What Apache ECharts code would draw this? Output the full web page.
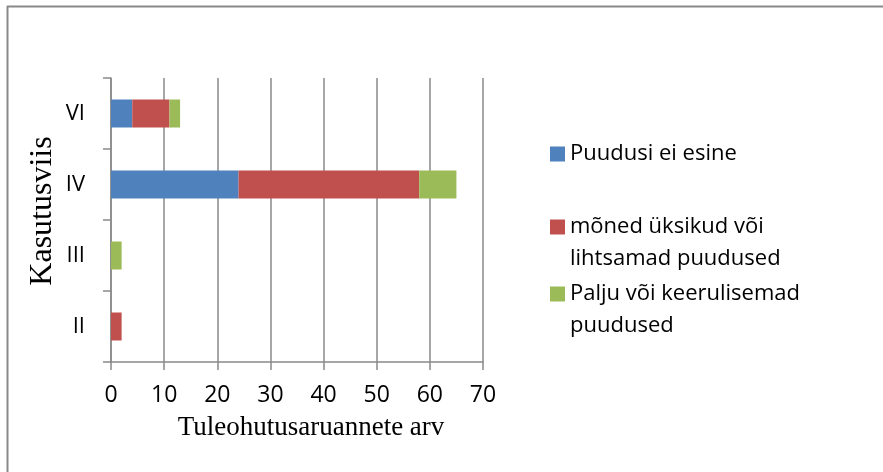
<!DOCTYPE html>
<html lang="et">
<head>
    <meta charset="UTF-8">
    <title>Kasutusviis</title>
    <style>
        html, body { margin: 0; padding: 0; background: #fff; }
    </style>
</head>
<body>
<div id="main" style="width: 883px;height:472px;"></div>
<script src="https://cdn.jsdelivr.net/npm/echarts@6/dist/echarts.min.js"></script>
<script>
    // andmed
    var categories = ['II', 'III', 'IV', 'VI'];
    var xTicks = [0, 10, 20, 30, 40, 50, 60, 70];
    var puudusiEi = [0, 0, 24, 4];
    var monedUksikud = [2, 0, 34, 7];
    var paljuKeeruline = [0, 2, 7, 2];
    var seriesNames = ['Puudusi ei esine', 'mõned üksikud või lihtsamad puudused', 'Palju või keerulisemad puudused'];
    var legendLabels = ['Puudusi ei esine', 'mõned üksikud või\nlihtsamad puudused', 'Palju või keerulisemad\npuudused'];

    var myChart = echarts.init(document.getElementById('main'));
    var gray = '#898989';
    var sans = "'Open Sans', sans-serif";
    var serif = "'Liberation Serif', 'DejaVu Serif', serif";

    // mitmerealine legend: tühi rida ette, et ikoon jääks esimese rea kõrvale
    function legendItem(idx, top) {
        var multi = legendLabels[idx].indexOf('\n') >= 0;
        return {
            orient: 'vertical',
            left: 550,
            top: top,
            padding: 0,
            itemWidth: 15,
            itemHeight: 15,
            icon: 'rect',
            selectedMode: false,
            data: [seriesNames[idx]],
            formatter: function () { return multi ? '\n' + legendLabels[idx] : legendLabels[idx]; },
            textStyle: {
                fontFamily: sans,
                fontSize: 22,
                color: '#000',
                lineHeight: 32
            }
        };
    }

    var option = {
        backgroundColor: '#fff',
        animation: false,
        legend: [legendItem(0, 138), legendItem(1, 179), legendItem(2, 246)],
        grid: {
            left: 111,
            right: 400,
            top: 78,
            bottom: 110
        },
        xAxis: {
            type: 'value',
            min: 0,
            max: 70,
            interval: 10,
            name: 'Tuleohutusaruannete arv',
            nameLocation: 'middle',
            nameGap: 52,
            nameTextStyle: {
                fontFamily: serif,
                fontSize: 27,
                color: '#000',
                padding: [0, 0, 0, 28]
            },
            axisLine: { show: true, lineStyle: { color: gray, width: 1.5 } },
            axisTick: { show: true, length: 8, lineStyle: { color: gray, width: 1.5 } },
            axisLabel: {
                margin: 22,
                fontFamily: sans,
                fontSize: 23,
                color: '#000',
                formatter: function (v) { return xTicks.indexOf(v) >= 0 ? String(v) : ''; }
            },
            splitLine: { show: true, lineStyle: { color: gray, width: 1.5 } }
        },
        yAxis: {
            type: 'category',
            data: categories,
            name: 'Kasutusviis',
            nameLocation: 'middle',
            nameGap: 52,
            nameTextStyle: {
                fontFamily: serif,
                fontSize: 32,
                color: '#000',
                padding: [0, 0, 0, 18]
            },
            axisLine: { show: true, lineStyle: { color: gray, width: 1.5 } },
            axisTick: { show: true, length: 8, lineStyle: { color: gray, width: 1.5 } },
            axisLabel: {
                margin: 26,
                fontFamily: sans,
                fontSize: 22,
                color: '#000'
            },
            splitLine: { show: false }
        },
        graphic: [
            { type: 'line', shape: { x1: 7, y1: 6.5, x2: 883, y2: 6.5 }, style: { stroke: gray, lineWidth: 2 } },
            { type: 'line', shape: { x1: 7.5, y1: 6, x2: 7.5, y2: 472 }, style: { stroke: gray, lineWidth: 2 } }
        ],
        series: [
            {
                name: seriesNames[0],
                type: 'bar',
                stack: 'kokku',
                barWidth: 28,
                itemStyle: { color: '#4F81BD' },
                data: puudusiEi
            },
            {
                name: seriesNames[1],
                type: 'bar',
                stack: 'kokku',
                barWidth: 28,
                itemStyle: { color: '#C0504D' },
                data: monedUksikud
            },
            {
                name: seriesNames[2],
                type: 'bar',
                stack: 'kokku',
                barWidth: 28,
                itemStyle: { color: '#9BBB59' },
                data: paljuKeeruline
            }
        ]
    };

    myChart.setOption(option);
</script>
</body>
</html>
